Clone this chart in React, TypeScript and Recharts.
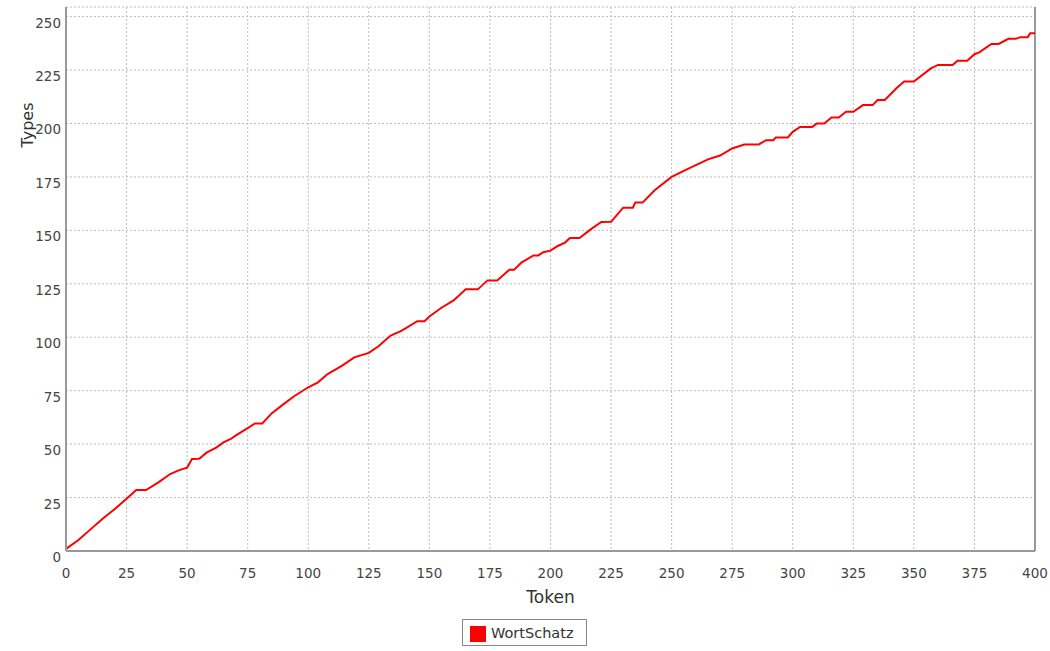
import React from 'react';
import { LineChart, Line, XAxis, YAxis, CartesianGrid, ReferenceLine, Legend, Label } from 'recharts';

const tokens = [0, 5, 10, 15, 20, 25, 29, 33, 38, 43, 46, 48, 50, 52, 55, 58, 62, 65, 68, 70, 75, 78, 81, 85, 89, 94, 100, 104, 108, 114, 119, 125, 129, 134, 138, 140, 145, 148, 150, 155, 160, 165, 170, 174, 178, 183, 185, 188, 193, 195, 197, 200, 203, 206, 208, 212, 217, 221, 225, 230, 234, 235, 238, 243, 250, 255, 260, 265, 270, 275, 280, 286, 289, 292, 293, 298, 300, 303, 308, 310, 313, 316, 319, 322, 325, 329, 333, 335, 338, 343, 346, 350, 357, 360, 366, 368, 372, 375, 377, 382, 385, 389, 392, 394, 397, 398, 400];
const types = [1, 5, 10, 15, 19.5, 24.5, 28.5, 28.5, 32, 36, 37.5, 38.3, 39, 43, 43.2, 46, 48.4, 50.8, 52.4, 54, 57.5, 59.7, 59.7, 64.5, 68, 72.3, 76.6, 78.9, 82.8, 86.7, 90.6, 92.7, 95.8, 100.8, 102.7, 104, 107.5, 107.5, 109.7, 113.8, 117.2, 122.4, 122.4, 126.6, 126.6, 131.6, 131.6, 134.9, 138.3, 138.3, 139.8, 140.5, 142.7, 144.3, 146.4, 146.4, 150.8, 153.9, 154, 160.6, 160.6, 163, 163, 168.8, 175, 177.8, 180.5, 183.2, 185, 188.3, 190.2, 190.2, 192.2, 192.2, 193.5, 193.5, 196.1, 198.4, 198.4, 200, 200, 202.8, 202.8, 205.5, 205.5, 208.6, 208.6, 211, 211, 216.7, 219.6, 219.6, 225.8, 227.4, 227.4, 229.4, 229.4, 232.4, 233.3, 237.2, 237.2, 239.6, 239.6, 240.4, 240.4, 242.2, 242.2];
const xTicks = [0, 25, 50, 75, 100, 125, 150, 175, 200, 225, 250, 275, 300, 325, 350, 375, 400];
const yTicks = [0, 25, 50, 75, 100, 125, 150, 175, 200, 225, 250];
const seriesName = 'WortSchatz';

const data = tokens.map((t, i) => ({ token: t, types: types[i] }));

const FONT = '"DejaVu Sans", sans-serif';

const XTick = (props: any) => (
  <text x={props.x} y={props.y} dy={27} textAnchor="middle" fontFamily={FONT} fontSize={13.5} fill="#444">
    {props.payload.value}
  </text>
);
const YTick = (props: any) => (
  <text x={props.x} y={props.y} dy={11} textAnchor="end" fontFamily={FONT} fontSize={13.5} fill="#444">
    {props.payload.value}
  </text>
);

const LegendBox = () => (
  <div style={{ width: 125, height: 27, boxSizing: 'border-box', border: '1px solid #888', background: '#fff', position: 'relative', fontFamily: FONT }}>
    <div style={{ position: 'absolute', left: 7, top: 6, width: 16, height: 16, background: '#ff0000' }} />
    <div style={{ position: 'absolute', left: 28, top: 3, fontSize: 14.5, color: '#333', lineHeight: '20px' }}>{seriesName}</div>
  </div>
);

export default function App() {
  return (
    <div style={{ position: 'absolute', left: 0, top: 0, width: 1050, height: 651, background: '#fff' }}>
      <LineChart width={1050} height={651} data={data} margin={{ top: 7, right: 15, left: 0, bottom: 18 }}>
        <CartesianGrid strokeDasharray="2 2" stroke="#bdbdbd" />
        <XAxis
          dataKey="token"
          type="number"
          domain={[0, 400]}
          ticks={xTicks}
          interval={0}
          height={55}
          tickLine={false}
          tickSize={0}
          tickMargin={0}
          axisLine={{ stroke: '#999', strokeWidth: 2 }}
          tick={XTick}
        >
          <Label value="Token" position="insideBottom" offset={3} fontFamily={FONT} fontSize={17} fill="#333" />
        </XAxis>
        <YAxis
          type="number"
          domain={[0, 254.5]}
          ticks={yTicks}
          interval={0}
          width={66}
          tickLine={false}
          tickSize={0}
          tickMargin={5}
          axisLine={{ stroke: '#999', strokeWidth: 2 }}
          tick={YTick}
          allowDataOverflow
        >
          <Label
            content={(p: any) => {
              const vb = p.viewBox || { x: 0, y: 0 };
              const cx = vb.x + 33;
              const cy = vb.y + 118;
              return (
                <text x={cx} y={cy} transform={`rotate(-90 ${cx} ${cy})`} textAnchor="middle" fontFamily={FONT} fontSize={16} fill="#333">
                  Types
                </text>
              );
            }}
          />
        </YAxis>
        <ReferenceLine x={400} stroke="#999" strokeWidth={2} />
        <Legend content={LegendBox} wrapperStyle={{ left: 462, top: 619, width: 125, height: 27 }} />
        <Line type="linear" dataKey="types" name={seriesName} stroke="#ff0000" strokeWidth={2} dot={false} isAnimationActive={false} />
      </LineChart>
    </div>
  );
}
